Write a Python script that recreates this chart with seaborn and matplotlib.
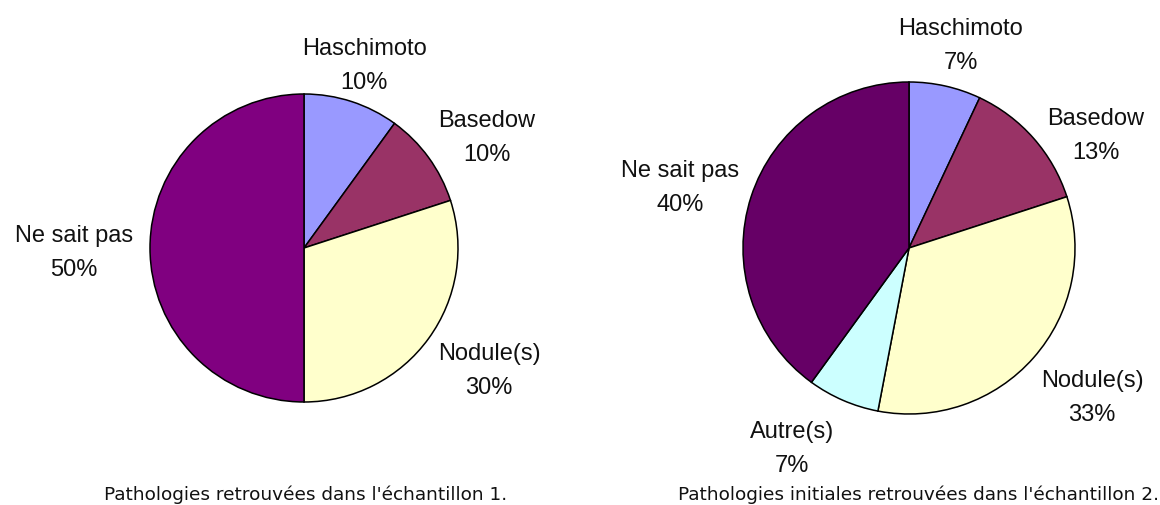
import matplotlib
matplotlib.use("Agg")
import matplotlib.pyplot as plt
import seaborn as sns

# Sample 1
labels_1 = ["Haschimoto", "Basedow", "Nodule(s)", "Ne sait pas"]
values_1 = [10, 10, 30, 50]
colors_1 = ["#9999FF", "#993366", "#FFFFCC", "#800080"]
title_1 = "Pathologies retrouvées dans l'échantillon 1."

# Sample 2
labels_2 = ["Haschimoto", "Basedow", "Nodule(s)", "Autre(s)", "Ne sait pas"]
values_2 = [7, 13, 33, 7, 40]
colors_2 = ["#9999FF", "#993366", "#FFFFCC", "#CCFFFF", "#660066"]
title_2 = "Pathologies initiales retrouvées dans l'échantillon 2."

sns.set_theme(style="white")
plt.rcParams["font.family"] = ["Liberation Sans", "DejaVu Sans"]

W, H = 1160, 506
fig = plt.figure(figsize=(W / 100, H / 100), dpi=100)
fig.patch.set_facecolor("white")


def fx(x):
    return x / W


def fy(y):
    return 1 - y / H


def draw_pie(values, colors, cx, cy, r):
    pad = 1.03
    half = r * pad
    ax = fig.add_axes([fx(cx - half), fy(cy + half), 2 * half / W, 2 * half / H])
    ax.pie(values, colors=colors, startangle=90, counterclock=False,
           wedgeprops=dict(edgecolor="black", linewidth=1.1))
    ax.set_xlim(-pad, pad)
    ax.set_ylim(-pad, pad)
    ax.set_axis_off()
    return ax


def draw_labels(labels, values, anchors):
    for name, val, (x, y) in zip(labels, values, anchors):
        fig.text(fx(x), fy(y), name, ha="center", va="baseline",
                 fontsize=17, color="#111111")
        fig.text(fx(x), fy(y + 34), f"{val}%", ha="center", va="baseline",
                 fontsize=17, color="#111111")


draw_pie(values_1, colors_1, 304, 249, 154)
draw_pie(values_2, colors_2, 909, 249, 166)

# label anchors: (centre x, baseline of the name) in pixels from the top-left
draw_labels(labels_1, values_1, [(364, 55), (487, 127), (489, 360), (74, 242)])
draw_labels(labels_2, values_2, [(961, 35), (1096, 125), (1092, 387),
                                 (792, 438), (680, 177)])

fig.text(fx(306), fy(500), title_1, ha="center", va="baseline",
         fontsize=13.3, family="DejaVu Sans", color="#111111")
fig.text(fx(918), fy(500), title_2, ha="center", va="baseline",
         fontsize=13.3, family="DejaVu Sans", color="#111111")

fig.savefig("out.png", dpi=100, facecolor="white")
